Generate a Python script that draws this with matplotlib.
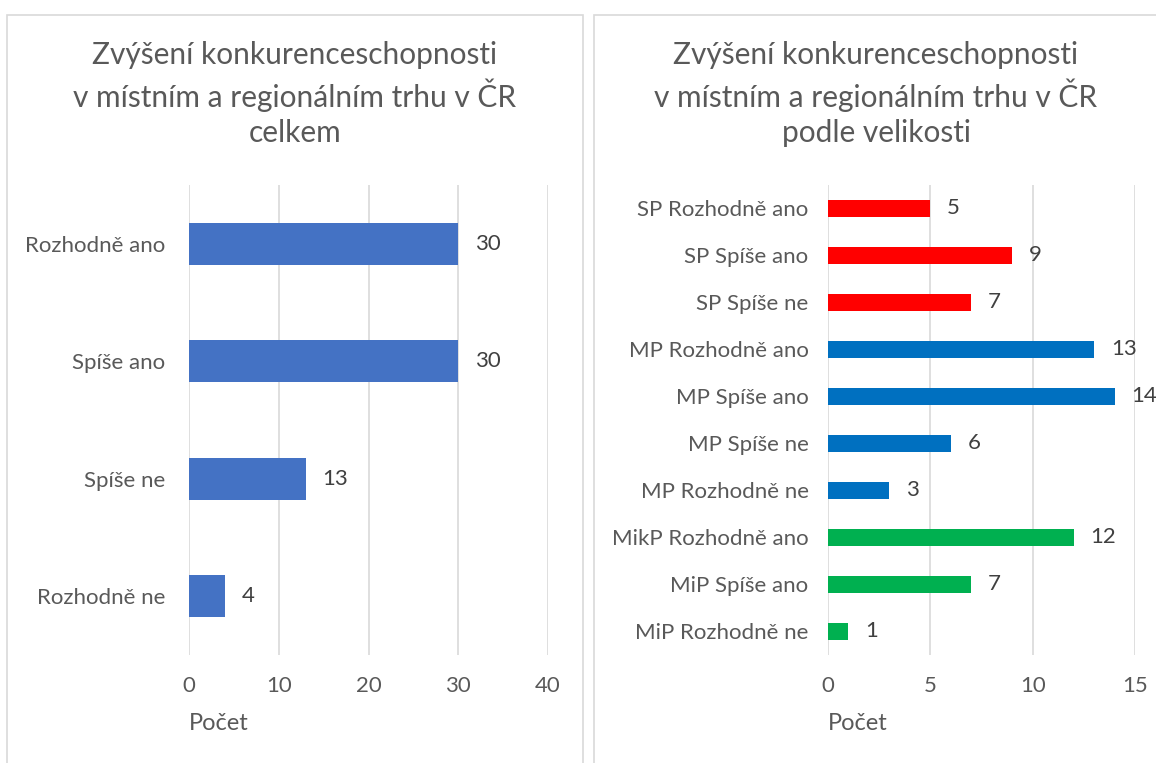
import matplotlib.pyplot as plt
from matplotlib.patches import Rectangle

plt.rcParams['font.family'] = ['Lato', 'DejaVu Sans']

# data
cats_left = ['Rozhodně ano', 'Spíše ano', 'Spíše ne', 'Rozhodně ne']
vals_left = [30, 30, 13, 4]

cats_right = ['SP Rozhodně ano', 'SP Spíše ano', 'SP Spíše ne',
              'MP Rozhodně ano', 'MP Spíše ano', 'MP Spíše ne', 'MP Rozhodně ne',
              'MikP Rozhodně ano', 'MiP Spíše ano', 'MiP Rozhodně ne']
vals_right = [5, 9, 7, 13, 14, 6, 3, 12, 7, 1]
groups_right = ['SP', 'SP', 'SP', 'MP', 'MP', 'MP', 'MP', 'MiP', 'MiP', 'MiP']
group_colors = {'SP': '#FF0000', 'MP': '#0070C0', 'MiP': '#00B050'}

title_left = 'Zvýšení konkurenceschopnosti\nv místním a regionálním trhu v ČR\ncelkem'
title_right = 'Zvýšení konkurenceschopnosti\nv místním a regionálním trhu v ČR\npodle velikosti'

txt = '#595959'
W, H = 1156, 763
fig = plt.figure(figsize=(W / 100, H / 100), dpi=100)

# panel frames
for x0, x1 in [(7, 583), (594, 1170)]:
    fig.patches.append(Rectangle((x0 / W, -0.05), (x1 - x0) / W, 1.05 - 15 / H,
                                 transform=fig.transFigure, fill=False,
                                 edgecolor='#D9D9D9', lw=1.2))


def panel(rect, cats, vals, colors, xmax, step, fs_lab, ypad):
    ax = fig.add_axes(rect)
    n = len(cats)
    ypos = list(range(n))
    ax.barh(ypos, vals, height=0.36, color=colors, zorder=3)
    ax.set_ylim(n - 0.5, -0.5)
    ax.set_xlim(0, xmax)
    ax.set_xticks(range(0, xmax + 1, step))
    ax.set_yticks(ypos)
    ax.set_yticklabels(cats)
    ax.grid(axis='x', color='#D9D9D9', lw=1.2, zorder=0)
    for s in ax.spines.values():
        s.set_visible(False)
    ax.tick_params(length=0, colors=txt, labelsize=fs_lab)
    ax.tick_params(axis='x', pad=15)
    ax.tick_params(axis='y', pad=ypad)
    for y, v in zip(ypos, vals):
        ax.annotate(str(v), (v, y), xytext=(12, 0), textcoords='offset points',
                    va='center', ha='left', fontsize=fs_lab, color='#404040')
    ax.text(0, -0.145, 'Počet', transform=ax.transAxes, ha='left', va='center',
            fontsize=fs_lab + 1, color=txt)
    return ax


top, bot = 1 - 185 / H, 1 - 655 / H
panel([189 / W, bot, (548 - 189) / W, top - bot], cats_left, vals_left,
      ['#4472C4'] * 4, 40, 10, 16, 17)
panel([828 / W, bot, (1135 - 828) / W, top - bot], cats_right, vals_right,
      [group_colors[g] for g in groups_right], 15, 5, 16, 14)

fig.text(295 / W, 1 - 94 / H, title_left, ha='center', va='center',
         fontsize=21.5, color=txt, linespacing=1.32)
fig.text(876 / W, 1 - 94 / H, title_right, ha='center', va='center',
         fontsize=21.5, color=txt, linespacing=1.32)

fig.savefig('out.png', dpi=100, facecolor='white')
